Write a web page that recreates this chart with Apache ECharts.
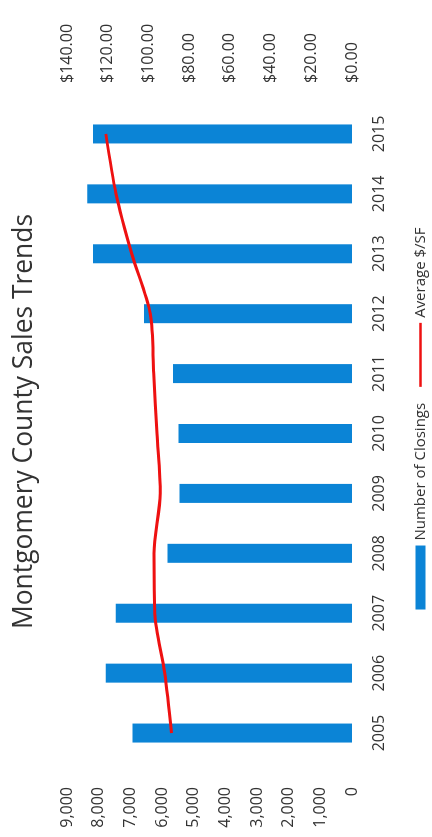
<!DOCTYPE html>
<html>
<head>
<meta charset="utf-8">
<title>Montgomery County Sales Trends</title>
<script src="https://cdn.jsdelivr.net/npm/echarts@6.0.0/dist/echarts.min.js"></script>
<style>
  html, body { margin: 0; padding: 0; background: #ffffff; overflow: hidden; }
  body { width: 432px; height: 837px; position: relative; }
  /* The chart is laid out landscape and turned a quarter turn counter-clockwise. */
  #chart {
    position: absolute; left: 0; top: 0;
    width: 837px; height: 432px;
    transform-origin: 0 0;
    transform: translateY(837px) rotate(-90deg);
  }
</style>
</head>
<body>
<div id="chart"></div>
<script>
// Yearly closings and average price per square foot
const years = ['2005', '2006', '2007', '2008', '2009', '2010', '2011', '2012', '2013', '2014', '2015'];
const closings = [6930, 7780, 7460, 5830, 5450, 5480, 5650, 6570, 8180, 8360, 8180];
const avgPricePerSF = [88.7, 92.0, 96.9, 97.3, 94.2, 95.8, 97.4, 99.1, 108.2, 115.9, 120.9];

const closingsTicks = { min: 0, max: 9000, interval: 1000 };
const priceTicks = { min: 0, max: 140, interval: 20 };

const FONT = '"Open Sans", "Liberation Sans", sans-serif';
const BAR_BLUE = '#0b84d6';
const LINE_RED = '#ee1111';

const chart = echarts.init(document.getElementById('chart'), null, { renderer: 'canvas' });

chart.setOption({
  animation: false,
  backgroundColor: '#ffffff',
  textStyle: { fontFamily: FONT },
  title: {
    text: 'Montgomery County Sales Trends',
    left: 203,
    top: 6,
    textStyle: { fontFamily: FONT, fontSize: 26.4, fontWeight: 'normal', color: '#333333' }
  },
  legend: {
    left: 'center',
    top: 408,
    itemWidth: 64,
    itemHeight: 10,
    itemGap: 16,
    textStyle: { fontFamily: FONT, fontSize: 15, color: '#333333' },
    data: [
      { name: 'Number of Closings', icon: 'rect' },
      { name: 'Average $/SF', icon: 'path://M0,4L50,4L50,6L0,6Z' }
    ]
  },
  grid: { left: 74, right: 104, top: 67, bottom: 80 },
  xAxis: {
    type: 'category',
    data: years,
    axisLine: { show: false },
    axisTick: { show: false },
    axisLabel: { fontFamily: FONT, fontSize: 16, color: '#333333', margin: 19 }
  },
  yAxis: [
    {
      type: 'value',
      min: closingsTicks.min,
      max: closingsTicks.max,
      interval: closingsTicks.interval,
      axisLine: { show: false },
      axisTick: { show: false },
      splitLine: { show: false },
      axisLabel: {
        fontFamily: FONT, fontSize: 16, color: '#333333', margin: 24,
        formatter: v => v.toLocaleString('en-US')
      }
    },
    {
      type: 'value',
      position: 'right',
      min: priceTicks.min,
      max: priceTicks.max,
      interval: priceTicks.interval,
      axisLine: { show: false },
      axisTick: { show: false },
      splitLine: { show: false },
      axisLabel: {
        fontFamily: FONT, fontSize: 16, color: '#333333', margin: 21,
        formatter: v => '$' + v.toFixed(2)
      }
    }
  ],
  series: [
    {
      name: 'Number of Closings',
      type: 'bar',
      yAxisIndex: 0,
      data: closings,
      barWidth: 19,
      itemStyle: { color: BAR_BLUE }
    },
    {
      name: 'Average $/SF',
      type: 'line',
      yAxisIndex: 1,
      data: avgPricePerSF,
      smooth: 0.3,
      symbol: 'none',
      lineStyle: { color: LINE_RED, width: 3 },
      itemStyle: { color: LINE_RED }
    }
  ]
});
</script>
</body>
</html>
